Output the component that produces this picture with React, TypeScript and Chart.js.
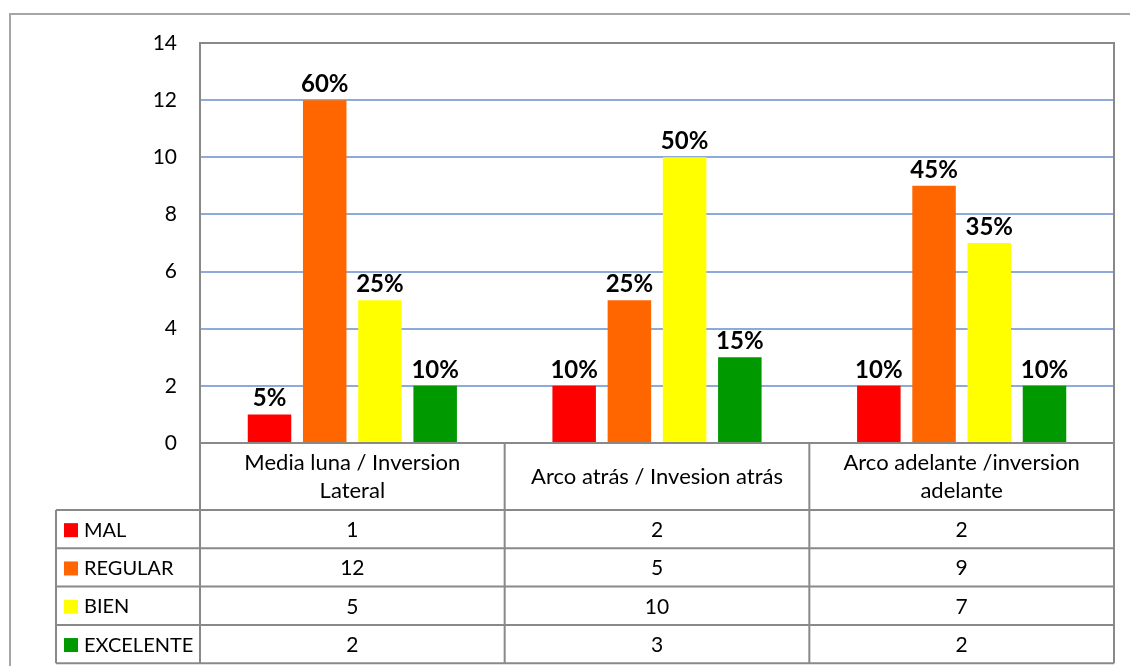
import React, { useEffect, useRef } from "react";
import { Chart, registerables } from "chart.js";

Chart.register(...registerables);

const categories: string[][] = [
  ["Media luna / Inversion", "Lateral"],
  ["Arco atrás / Invesion atrás"],
  ["Arco adelante /inversion", "adelante"],
];
const seriesNames = ["MAL", "REGULAR", "BIEN", "EXCELENTE"];
const seriesColors = ["#FF0000", "#FF6600", "#FFFF00", "#009900"];
const malValues = [1, 2, 2];
const regularValues = [12, 5, 9];
const bienValues = [5, 10, 7];
const excelenteValues = [2, 3, 2];
const malPct = ["5%", "10%", "10%"];
const regularPct = ["60%", "25%", "45%"];
const bienPct = ["25%", "50%", "35%"];
const excelentePct = ["10%", "15%", "10%"];
const yTicksMax = 14;
const yTicksStep = 2;

const seriesValues = [malValues, regularValues, bienValues, excelenteValues];
const seriesPct = [malPct, regularPct, bienPct, excelentePct];

const FONT = "Lato, 'Open Sans', sans-serif";

export default function App() {
  const ref = useRef<HTMLCanvasElement | null>(null);
  useEffect(() => {
    if (!ref.current) return;
    const tablePlugin = {
      id: "excelTable",
      afterDraw(chart: any) {
        const ctx = chart.ctx as CanvasRenderingContext2D;
        const ca = chart.chartArea;
        const xs = chart.scales.x;
        ctx.save();
        // outer frame
        ctx.strokeStyle = "#A6A6A6";
        ctx.lineWidth = 2;
        ctx.strokeRect(10, 14, 1140, 680);

        // bar labels
        ctx.fillStyle = "#000";
        ctx.font = `bold 24px ${FONT}`;
        ctx.textAlign = "center";
        ctx.textBaseline = "alphabetic";
        chart.data.datasets.forEach((ds: any, di: number) => {
          const meta = chart.getDatasetMeta(di);
          meta.data.forEach((bar: any, i: number) => {
            ctx.fillText(seriesPct[di][i], bar.x, bar.y - 8);
          });
        });

        // plot border
        ctx.strokeStyle = "#898989";
        ctx.lineWidth = 2;
        ctx.strokeRect(ca.left, ca.top, ca.right - ca.left, ca.bottom - ca.top);

        // table
        const n = categories.length;
        const colW = (ca.right - ca.left) / n;
        const colEdges: number[] = [];
        for (let i = 0; i <= n; i++) colEdges.push(ca.left + i * colW);
        const headerBottom = 510;
        const rowH = 38.3;
        const tableLeft = 56;
        const rows = seriesNames.length;
        const tableBottom = headerBottom + rows * rowH;

        ctx.beginPath();
        colEdges.forEach((x) => {
          ctx.moveTo(x, ca.bottom);
          ctx.lineTo(x, tableBottom);
        });
        ctx.moveTo(tableLeft, headerBottom);
        ctx.lineTo(tableLeft, tableBottom);
        ctx.moveTo(ca.left, ca.bottom);
        ctx.lineTo(ca.right, ca.bottom);
        for (let r = 0; r <= rows; r++) {
          const y = headerBottom + r * rowH;
          ctx.moveTo(tableLeft, y);
          ctx.lineTo(ca.right, y);
        }
        ctx.stroke();

        // header text
        ctx.font = `22px ${FONT}`;
        ctx.fillStyle = "#000";
        ctx.textBaseline = "middle";
        ctx.textAlign = "center";
        categories.forEach((lines, i) => {
          const cx = xs.getPixelForValue(i);
          const mid = (ca.bottom + headerBottom) / 2;
          const lh = 28;
          const start = mid - ((lines.length - 1) * lh) / 2;
          lines.forEach((t, k) => ctx.fillText(t, cx, start + k * lh));
        });

        // body
        for (let r = 0; r < rows; r++) {
          const cy = headerBottom + r * rowH + rowH / 2 + 1;
          ctx.fillStyle = seriesColors[r];
          ctx.fillRect(64, cy - 7, 14, 14);
          ctx.fillStyle = "#000";
          ctx.textAlign = "left";
          ctx.font = `20px ${FONT}`;
          ctx.fillText(seriesNames[r], 84, cy);
          ctx.textAlign = "center";
          ctx.font = `21px ${FONT}`;
          for (let i = 0; i < n; i++) {
            ctx.fillText(String(seriesValues[r][i]), xs.getPixelForValue(i), cy);
          }
        }
        ctx.restore();
      },
    };

    const chart = new Chart(ref.current, {
      type: "bar",
      data: {
        labels: categories.map((c) => c.join(" ")),
        datasets: seriesNames.map((name, i) => ({
          label: name,
          data: seriesValues[i],
          backgroundColor: seriesColors[i],
          borderWidth: 0,
          categoryPercentage: 0.725,
          barPercentage: 0.788,
        })),
      },
      options: {
        responsive: false,
        animation: false,
        layout: { padding: { top: 43, right: 16, bottom: 223, left: 0 } },
        plugins: { legend: { display: false }, tooltip: { enabled: false } },
        scales: {
          x: { display: false, grid: { display: false } },
          y: {
            min: 0,
            max: yTicksMax,
            ticks: {
              stepSize: yTicksStep,
              padding: 23,
              color: "#000",
              font: { family: FONT, size: 21 },
            },
            grid: {
              drawTicks: false,
              lineWidth: 2,
              color: (c: any) =>
                c.tick && (c.tick.value === 0 || c.tick.value === yTicksMax)
                  ? "rgba(0,0,0,0)"
                  : "#8EAADB",
            },
            border: { display: false },
            afterFit: (s: any) => {
              s.width = 200;
            },
          },
        },
      },
      plugins: [tablePlugin],
    });
    return () => chart.destroy();
  }, []);

  return (
    <div style={{ position: "fixed", left: 0, top: 0, width: 1130, height: 666, background: "#fff" }}>
      <canvas ref={ref} width={1130} height={666} />
    </div>
  );
}
